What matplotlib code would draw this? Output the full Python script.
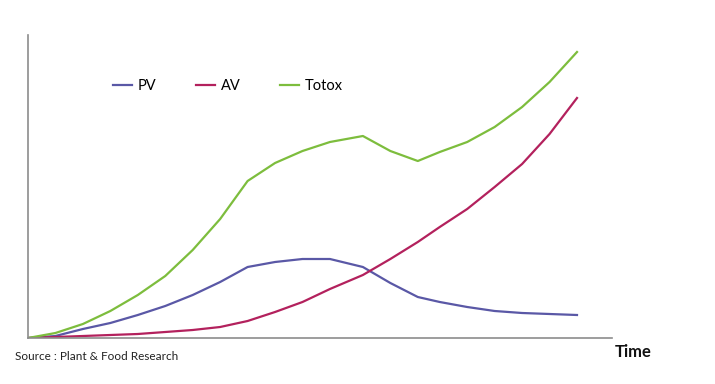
import matplotlib.pyplot as plt

plt.rcParams['font.family'] = ['Lato', 'DejaVu Sans']

# time steps (arbitrary units)
t = [0, 0.5, 1, 1.5, 2, 2.5, 3, 3.5, 4, 4.5, 5, 5.5, 6.1, 6.6, 7.1, 7.5, 8, 8.5, 9, 9.5, 10]

# values (relative units)
pv = [0, 2, 9, 15, 23, 32, 43, 56, 71, 76, 79, 79, 71, 55, 41, 36, 31, 27, 25, 24, 23]
av = [0, 1, 2, 3, 4, 6, 8, 11, 17, 26, 36, 49, 63, 79, 96, 111, 129, 151, 174, 204, 240]
totox = [0, 5, 14, 27, 43, 62, 88, 119, 157, 175, 187, 196, 202, 187, 177, 186, 196, 211, 231, 256, 286]

fig = plt.figure(figsize=(7.15, 3.84), dpi=100)
ax = fig.add_axes([28 / 715, 46 / 384, 584 / 715, 303 / 384])

ax.plot(t, pv, color='#5a58a6', lw=1.6, label='PV')
ax.plot(t, av, color='#b3215d', lw=1.6, label='AV')
ax.plot(t, totox, color='#7dbd3d', lw=1.6, label='Totox')

ax.set_xlim(0, 584 / 54.9)
ax.set_ylim(0, 303)
ax.set_xticks([])
ax.set_yticks([])
for s in ['top', 'right']:
    ax.spines[s].set_visible(False)
for s in ['left', 'bottom']:
    ax.spines[s].set_color('#8c8c8c')
    ax.spines[s].set_linewidth(1.2)

ax.legend(ncol=3, frameon=False, fontsize=10.5, handlelength=1.3, handletextpad=0.4,
          columnspacing=2.7, loc='center left',
          bbox_to_anchor=(100 / 715, 1 - 86 / 384), bbox_transform=fig.transFigure)

fig.text(15 / 715, 1 - 357 / 384, 'Source : Plant & Food Research', fontsize=8.5,
         va='center', ha='left', color='#222222')
fig.text(615 / 715, 1 - 352 / 384, 'Time', fontsize=12, fontweight='bold',
         va='center', ha='left', color='#111111')

fig.savefig('out.png', dpi=100)
